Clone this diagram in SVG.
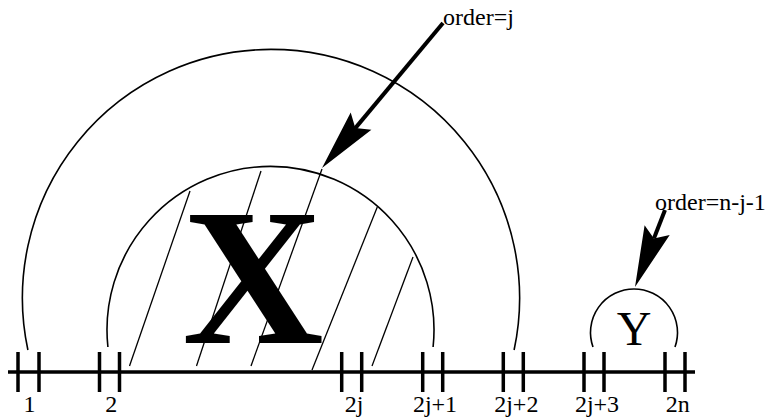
<svg xmlns="http://www.w3.org/2000/svg" width="774" height="418" viewBox="0 0 774 418">
<style>
.arc{fill:none;stroke:#000;stroke-width:1.6}
.hatch{fill:none;stroke:#000;stroke-width:1.3}
.axis{fill:none;stroke:#000;stroke-width:3.5}
.tick{fill:none;stroke:#000;stroke-width:3.5}
.shaft{fill:none;stroke:#000;stroke-width:4}
.head{fill:#000;stroke:none}
.lbl{font-family:"Liberation Serif","Times New Roman",Times,serif;font-size:24px;fill:#000}
</style>
<rect width="774" height="418" fill="#fff"/>
<g id="axis">
<line class="axis" x1="8" y1="372" x2="695" y2="372"/>
<g class="tick">
<line x1="18" y1="352" x2="18" y2="392"/><line x1="39" y1="352" x2="39" y2="392"/>
<line x1="99.5" y1="352" x2="99.5" y2="392"/><line x1="119.5" y1="352" x2="119.5" y2="392"/>
<line x1="341.7" y1="352" x2="341.7" y2="392"/><line x1="361.7" y1="352" x2="361.7" y2="392"/>
<line x1="422.7" y1="352" x2="422.7" y2="392"/><line x1="442.7" y1="352" x2="442.7" y2="392"/>
<line x1="503.3" y1="352" x2="503.3" y2="392"/><line x1="523.3" y1="352" x2="523.3" y2="392"/>
<line x1="584" y1="352" x2="584" y2="392"/><line x1="604" y1="352" x2="604" y2="392"/>
<line x1="665" y1="352" x2="665" y2="392"/><line x1="685" y1="352" x2="685" y2="392"/>
</g>
<g class="lbl" text-anchor="middle">
<text x="29.5" y="411.5">1</text>
<text x="111.3" y="411.5">2</text>
<text x="354" y="411.5">2j</text>
<text x="435" y="411.5">2j+1</text>
<text x="516.3" y="411.5">2j+2</text>
<text x="597" y="411.5">2j+3</text>
<text x="677.7" y="411.5">2n</text>
</g>
</g>
<g id="outer-arc">
<path class="arc" d="M27.9,350 A248.6,248.6 0 1 1 514.1,350"/>
</g>
<g id="node-X">
<path class="arc" d="M107.9,347 A163.5,163.5 0 1 1 433.1,347"/>
<g class="hatch">
<line x1="190" y1="191" x2="129.5" y2="366"/>
<line x1="261" y1="171" x2="196.5" y2="366"/>
<line x1="322" y1="169" x2="251" y2="366"/>
<line x1="377.3" y1="207" x2="312" y2="370"/>
<line x1="413" y1="257" x2="372" y2="366"/>
</g>
<text x="253" y="343" text-anchor="middle" font-family="'Liberation Serif','Times New Roman',Times,serif" font-size="196" font-weight="bold">X</text>
</g>
<g id="node-Y">
<path class="arc" d="M593,347 A43.5,43.5 0 1 1 675,347"/>
<text x="634" y="345" text-anchor="middle" font-family="'Liberation Serif','Times New Roman',Times,serif" font-size="48">Y</text>
</g>
<g id="label-order-j">
<text class="lbl" x="443" y="25">order=j</text>
</g>
<g id="label-order-nj1">
<text class="lbl" x="655" y="210">order=n-j-1</text>
</g>
<g id="connectors">
<line class="shaft" x1="443" y1="23" x2="355.3" y2="128.1"/>
<path class="head" d="M322,168 L350.7,112.5 L355.3,128.1 L371.4,129.8 Z"/>
<line class="shaft" x1="665" y1="210" x2="653.9" y2="238.5"/>
<path class="head" d="M635,287 L644.6,225.2 L653.9,238.5 L669.7,235 Z"/>
</g>
</svg>
